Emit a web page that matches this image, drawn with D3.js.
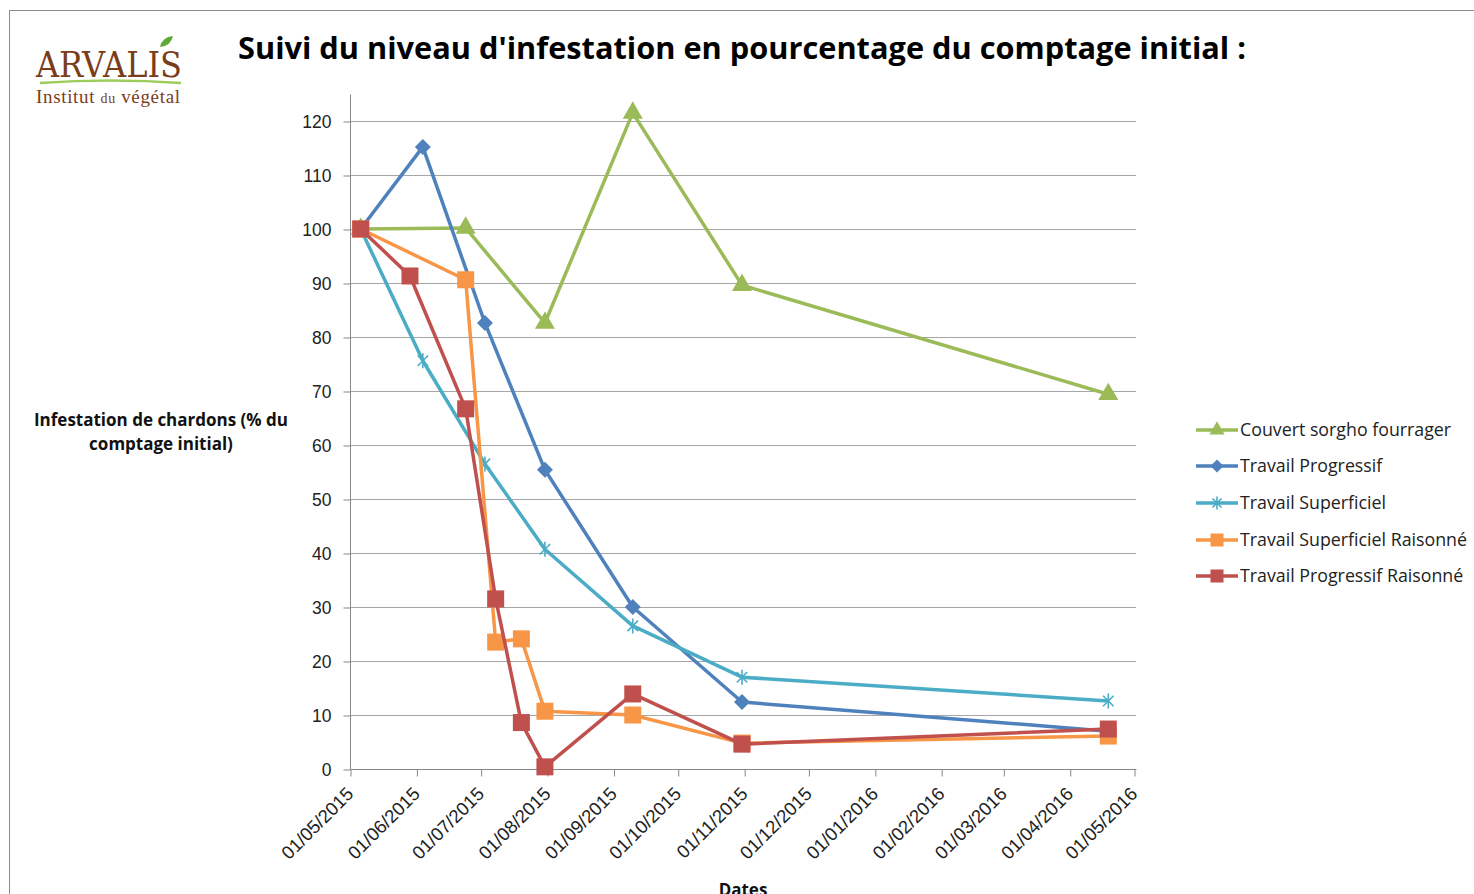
<!DOCTYPE html>
<html>
<head>
<meta charset="utf-8">
<script src="https://cdn.jsdelivr.net/npm/d3@7"></script>
<style>
body { margin: 0; background: #fff; }
svg { display: block; font-family: "Open Sans", "Noto Sans", sans-serif; }
</style>
</head>
<body>
<script>
// data
const seriesNames = ["Couvert sorgho fourrager", "Travail Progressif", "Travail Superficiel",
                     "Travail Superficiel Raisonné", "Travail Progressif Raisonné"];
const seriesColors = ["#9bbb59", "#4f81bd", "#4bacc6", "#f79646", "#c0504d"];
const seriesMarkers = ["triangle", "diamond", "star", "square", "square"];

const sorghoDates = ["2015-05-06", "2015-06-24", "2015-07-31", "2015-09-10", "2015-10-31", "2016-04-19"];
const sorghoValues = [100, 100.2, 82.6, 121.5, 89.6, 69.4];

const progDates = ["2015-05-06", "2015-06-04", "2015-07-03", "2015-07-31", "2015-09-10", "2015-10-31", "2016-04-19"];
const progValues = [100, 115.2, 82.6, 55.4, 30, 12.4, 7.0];

const superDates = ["2015-05-06", "2015-06-04", "2015-07-03", "2015-07-31", "2015-09-10", "2015-10-31", "2016-04-19"];
const superValues = [100, 75.6, 56.5, 40.7, 26.5, 17.0, 12.6];

const superRaisDates = ["2015-05-06", "2015-06-24", "2015-07-08", "2015-07-20", "2015-07-31", "2015-09-10", "2015-10-31", "2016-04-19"];
const superRaisValues = [100, 90.6, 23.5, 24.1, 10.7, 10.0, 4.8, 6.1];

const progRaisDates = ["2015-05-06", "2015-05-29", "2015-06-24", "2015-07-08", "2015-07-20", "2015-07-31", "2015-09-10", "2015-10-31", "2016-04-19"];
const progRaisValues = [100, 91.3, 66.7, 31.5, 8.6, 0.4, 13.9, 4.6, 7.4];

const xTickLabels = ["01/05/2015", "01/06/2015", "01/07/2015", "01/08/2015", "01/09/2015", "01/10/2015",
                     "01/11/2015", "01/12/2015", "01/01/2016", "01/02/2016", "01/03/2016", "01/04/2016", "01/05/2016"];
const yTicks = [0, 10, 20, 30, 40, 50, 60, 70, 80, 90, 100, 110, 120];

const width = 1474, height = 894;
const parseDate = d3.timeParse("%Y-%m-%d");
const parseTick = d3.timeParse("%d/%m/%Y");

const allDates = [sorghoDates, progDates, superDates, superRaisDates, progRaisDates];
const allValues = [sorghoValues, progValues, superValues, superRaisValues, progRaisValues];
const series = seriesNames.map((name, i) => ({
    name,
    color: seriesColors[i],
    marker: seriesMarkers[i],
    points: allDates[i].map((d, j) => [parseDate(d), allValues[i][j]])
}));

const svg = d3.select("body").append("svg")
    .attr("width", width)
    .attr("height", height);

// frame
svg.append("rect")
    .attr("x", 9.5).attr("y", 10.5)
    .attr("width", 1480).attr("height", 900)
    .attr("fill", "none")
    .attr("stroke", "#8c8c8c")
    .attr("stroke-width", 1);

// logo
const logo = svg.append("g");
logo.append("text")
    .attr("x", 36).attr("y", 77)
    .attr("font-family", "'DejaVu Serif', 'Liberation Serif', serif")
    .attr("font-size", 35)
    .attr("textLength", 146)
    .attr("lengthAdjust", "spacingAndGlyphs")
    .attr("fill", "#7a3d1a")
    .text("ARVALIS");
logo.append("path")
    .attr("d", "M40,83 Q110,78 181,83")
    .attr("stroke", "#9ccc5a").attr("stroke-width", 2.5).attr("fill", "none");
logo.append("path")
    .attr("d", "M160,47 Q162,37 173,36 Q171,46 160,47 Z")
    .attr("fill", "#5fa83a");
const inst = logo.append("text")
    .attr("x", 36).attr("y", 103)
    .attr("font-family", "'Liberation Serif', 'DejaVu Serif', serif")
    .attr("font-size", 19)
    .attr("textLength", 144)
    .attr("lengthAdjust", "spacing")
    .attr("fill", "#7a3d1a");
inst.append("tspan").text("Institut ");
inst.append("tspan").attr("font-size", 14).text("du");
inst.append("tspan").text(" végétal");

// title
svg.append("text")
    .attr("x", 238).attr("y", 59)
    .attr("font-size", 30)
    .attr("font-weight", "bold")
    .attr("textLength", 1008)
    .attr("lengthAdjust", "spacingAndGlyphs")
    .attr("fill", "#000")
    .text("Suivi du niveau d'infestation en pourcentage du comptage initial :");

// scales
const x = d3.scaleTime()
    .domain([parseTick(xTickLabels[0]), parseTick(xTickLabels[xTickLabels.length - 1])])
    .range([350, 1134]);
const y = d3.scaleLinear()
    .domain([0, 125])
    .range([769, 94]);

// gridlines
svg.append("g")
    .selectAll("line")
    .data(yTicks.slice(1))
    .join("line")
    .attr("x1", 350).attr("x2", 1136)
    .attr("y1", d => Math.round(y(d)) + 0.5)
    .attr("y2", d => Math.round(y(d)) + 0.5)
    .attr("stroke", "#a6a6a6")
    .attr("stroke-width", 1);

// y axis
const yAxis = d3.axisLeft(y)
    .tickValues(yTicks)
    .tickSize(7)
    .tickPadding(12)
    .tickFormat(d3.format("d"));
const gy = svg.append("g")
    .attr("transform", "translate(350.5,0.5)")
    .call(yAxis);
gy.select(".domain").attr("stroke", "#868686").attr("d", "M0,94V769");
gy.selectAll(".tick line").attr("stroke", "#868686");
gy.selectAll(".tick text")
    .attr("font-size", 17.5)
    .attr("fill", "#222");

// x axis
const xAxis = d3.axisBottom(x)
    .tickValues(xTickLabels.map(parseTick))
    .tickSize(7)
    .tickFormat(d3.timeFormat("%d/%m/%Y"));
const gx = svg.append("g")
    .attr("transform", "translate(0.5,769.5)")
    .call(xAxis);
gx.select(".domain").attr("stroke", "#868686").attr("d", "M350,0H1136");
gx.selectAll(".tick line").attr("stroke", "#868686");
gx.selectAll(".tick text")
    .attr("font-size", 18.5)
    .attr("fill", "#222")
    .attr("text-anchor", "end")
    .attr("transform", "translate(-1,21) rotate(-45)")
    .attr("dy", "0.35em")
    .attr("y", 0).attr("x", 0);

// axis titles
const yTitle = svg.append("text")
    .attr("text-anchor", "middle")
    .attr("font-size", 17)
    .attr("font-weight", "bold")
    .attr("fill", "#111");
yTitle.append("tspan").attr("x", 161).attr("y", 426).text("Infestation de chardons  (% du");
yTitle.append("tspan").attr("x", 161).attr("y", 450).text("comptage initial)");

svg.append("text")
    .attr("x", 743).attr("y", 896)
    .attr("text-anchor", "middle")
    .attr("font-size", 17)
    .attr("font-weight", "bold")
    .attr("fill", "#111")
    .text("Dates");

// markers
function drawMarker(g, type, color, size) {
    if (type === "triangle") {
        g.append("path").attr("d", d3.symbol(d3.symbolTriangle, size * size * 0.6)).attr("fill", color);
    } else if (type === "diamond") {
        g.append("path").attr("d", `M0,${-size / 2}L${size / 2},0L0,${size / 2}L${-size / 2},0Z`).attr("fill", color);
    } else if (type === "square") {
        g.append("rect").attr("x", -size / 2).attr("y", -size / 2)
            .attr("width", size).attr("height", size).attr("fill", color);
    } else if (type === "star") {
        const r = size / 2;
        const d = r * 0.7;
        g.append("path")
            .attr("d", `M${-d},${-d}L${d},${d}M${-d},${d}L${d},${-d}M0,${-r}L0,${r}`)
            .attr("stroke", color).attr("stroke-width", 1.6).attr("fill", "none");
    }
}

const markerSize = { triangle: 17, diamond: 16, star: 15, square: 17 };

const line = d3.line()
    .x(d => x(d[0]))
    .y(d => y(d[1]));

const plot = svg.append("g");
series.forEach(s => {
    const g = plot.append("g");
    g.append("path")
        .datum(s.points)
        .attr("d", line)
        .attr("fill", "none")
        .attr("stroke", s.color)
        .attr("stroke-width", 3.5)
        .attr("stroke-linejoin", "round");
    s.points.forEach(p => {
        const mg = g.append("g").attr("transform", `translate(${x(p[0])},${y(p[1])})`);
        drawMarker(mg, s.marker, s.color, markerSize[s.marker]);
    });
});

// legend
const legendRows = [430, 466, 503, 540, 576];
const legend = svg.append("g");
series.forEach((s, i) => {
    const g = legend.append("g").attr("transform", `translate(0,${legendRows[i]})`);
    g.append("line")
        .attr("x1", 1196).attr("x2", 1238)
        .attr("stroke", s.color).attr("stroke-width", 3.5);
    const mg = g.append("g").attr("transform", "translate(1217,0)");
    drawMarker(mg, s.marker, s.color, 13);
    g.append("text")
        .attr("x", 1240).attr("y", 0)
        .attr("dy", "0.35em")
        .attr("font-size", 17.8)
        .attr("fill", "#222")
        .text(s.name);
});
</script>
</body>
</html>
